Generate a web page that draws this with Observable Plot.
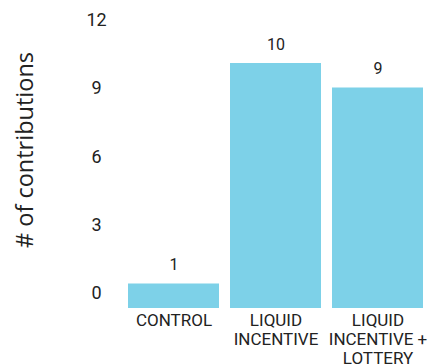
<!DOCTYPE html>
<html>
<head>
<meta charset="utf-8">
<script src="https://cdn.jsdelivr.net/npm/d3@7"></script>
<script src="https://cdn.jsdelivr.net/npm/@observablehq/plot@0.6"></script>
<style>
  html, body { margin: 0; padding: 0; background: #fff; }
  #wrap { position: relative; width: 442px; height: 364px; overflow: hidden; }
  #wrap > svg, #wrap > figure { position: absolute; left: 0; top: 0; margin: 0; }
  #ytitle {
    position: absolute; left: -126px; top: 136px; width: 300px; height: 28px;
    line-height: 28px; text-align: center; white-space: nowrap;
    font-family: "Open Sans", sans-serif; font-size: 23.5px; color: #222;
    transform: rotate(-90deg); transform-origin: 150px 14px;
  }
</style>
</head>
<body>
<div id="wrap"></div>
<script>
const categories = ["CONTROL", "LIQUID\nINCENTIVE", "LIQUID\nINCENTIVE +\nLOTTERY"];
const contributions = [1, 10, 9];
const yTicks = [0, 3, 6, 9, 12];
const yTitle = "# of contributions";

const data = categories.map((c, i) => ({category: c, value: contributions[i]}));

const W = 442, H = 364;
const barColor = "#7dd1e8";
const textColor = "#222";

const bars = Plot.plot({
  width: W, height: H,
  marginLeft: 121, marginRight: 13, marginTop: 14, marginBottom: 56,
  style: {fontFamily: "Roboto, sans-serif", fontSize: "16px", color: textColor, background: "transparent"},
  x: {domain: categories, paddingInner: 0.11, paddingOuter: 0.055, axis: null},
  y: {domain: [0, 12], axis: null},
  marks: [
    Plot.barY(data, {x: "category", y: "value", fill: barColor}),
    Plot.text(data, {x: "category", y: "value", text: d => String(d.value), dy: -19, fontSize: 16, fill: textColor}),
    Plot.axisX({tickSize: 0, tickPadding: 4, fontSize: 17, lineHeight: 1.12, label: null, lineAnchor: "top", fill: textColor})
  ]
});

const axis = Plot.plot({
  width: W, height: H,
  marginLeft: 121, marginRight: 13, marginTop: 19.5, marginBottom: 71,
  style: {fontFamily: "Roboto, sans-serif", fontSize: "18px", color: textColor, background: "transparent"},
  y: {domain: [0, 12]},
  marks: [
    Plot.axisY({ticks: yTicks, tickSize: 0, tickPadding: 25, textAnchor: "middle", fontSize: 18, fill: textColor, label: null})
  ]
});

const wrap = document.getElementById("wrap");
wrap.appendChild(bars);
wrap.appendChild(axis);
const t = document.createElement("div");
t.id = "ytitle";
t.textContent = yTitle;
wrap.appendChild(t);
</script>
</body>
</html>
